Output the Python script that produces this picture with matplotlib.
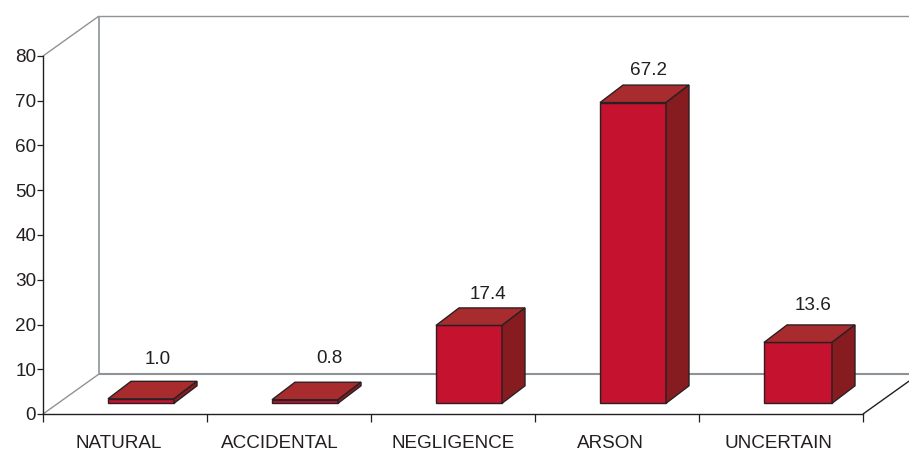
import matplotlib
matplotlib.use("Agg")
import matplotlib.pyplot as plt
from matplotlib.patches import Polygon

plt.rcParams["font.family"] = ["Liberation Sans", "DejaVu Sans"]

# Chart data
categories = ["NATURAL", "ACCIDENTAL", "NEGLIGENCE", "ARSON", "UNCERTAIN"]
values = [1.0, 0.8, 17.4, 67.2, 13.6]
value_labels = ["1.0", "0.8", "17.4", "67.2", "13.6"]
y_ticks = [0, 10, 20, 30, 40, 50, 60, 70, 80]

# Pixel nudges for the text around the bars
value_label_dx = [17, 24, 19, 16, 16]
value_label_dy = [39, 41, 31, 32, 37]
category_label_dx = [-6, -9, 0, -7, -3]
bar_extra_width_px = [0, 0, 0, 0, 2]

# Colours
TEXT = "#231f20"
WALL = "#8e9397"
EDGE = "#2a2024"
FRONT = "#c4122f"
TOP = "#a82c2e"
SIDE = "#871c20"
FONT_SIZE = 13.6

W, H = 909, 450
fig = plt.figure(figsize=(W / 100, H / 100), dpi=100, facecolor="white")
ax = fig.add_axes([43 / W, (H - 414) / H, 820 / W, 358 / H])
ax.set_xlim(0, len(categories))
ax.set_ylim(0, 80)
ax.patch.set_visible(False)

# Unit conversions for the oblique projection
px_x = len(categories) / 820
px_y = 80 / 358
wall_dx, wall_dy = 56 * px_x, 40 * px_y
bar_dx, bar_dy = 23 * px_x, 17.5 * px_y
bar_base = 10.7 * px_y
bar_shift = 16 * px_x
bar_width = 66 * px_x

for s in ("top", "right"):
    ax.spines[s].set_visible(False)
for s in ("left", "bottom"):
    ax.spines[s].set_color(TEXT)
    ax.spines[s].set_linewidth(1.0)

ax.set_yticks(y_ticks)
ax.set_xticks(range(len(categories) + 1))
ax.set_xticklabels([])
ax.tick_params(axis="y", length=4.5, width=0.9, color=TEXT, labelcolor=TEXT,
               labelsize=FONT_SIZE, pad=0.5)
ax.tick_params(axis="x", length=5.5, width=0.9, color=TEXT)

# Back wall and floor
n = len(categories)
line = dict(clip_on=False, solid_capstyle="butt", zorder=1)
ax.plot([0, wall_dx], [80, 80 + wall_dy], color=WALL, lw=1.0, **line)
ax.plot([0, wall_dx], [0, wall_dy], color=WALL, lw=1.0, **line)
ax.plot([wall_dx, wall_dx], [wall_dy, 80 + wall_dy], color=WALL, lw=1.2, **line)
ax.plot([wall_dx, n + wall_dx], [80 + wall_dy] * 2, color=WALL, lw=1.0, **line)
ax.plot([wall_dx, n + wall_dx], [wall_dy] * 2, color=WALL, lw=1.5, **line)
ax.plot([n, n + wall_dx], [0, wall_dy], color=TEXT, lw=1.0, **line)

# Extruded bars
for i, v in enumerate(values):
    x0 = i + 0.5 - bar_width / 2 + bar_shift
    x1 = x0 + bar_width + bar_extra_width_px[i] * px_x
    y0 = bar_base
    y1 = bar_base + v
    faces = [
        ([(x0, y0), (x1, y0), (x1, y1), (x0, y1)], FRONT),
        ([(x0, y1), (x1, y1), (x1 + bar_dx, y1 + bar_dy), (x0 + bar_dx, y1 + bar_dy)], TOP),
        ([(x1, y0), (x1 + bar_dx, y0 + bar_dy), (x1 + bar_dx, y1 + bar_dy), (x1, y1)], SIDE),
    ]
    for pts, color in faces:
        ax.add_patch(Polygon(pts, closed=True, facecolor=color, edgecolor=EDGE,
                             linewidth=1.0, joinstyle="miter", clip_on=False, zorder=3))
    ax.annotate(value_labels[i], xy=(i + 0.5 + bar_shift, y1),
                xytext=(value_label_dx[i], value_label_dy[i]),
                textcoords="offset pixels", ha="center", va="center",
                fontsize=FONT_SIZE, color=TEXT, annotation_clip=False, zorder=4)

# Category names below the axis
for i, name in enumerate(categories):
    ax.annotate(name, xy=(i + 0.5, 0), xytext=(category_label_dx[i], -29),
                textcoords="offset pixels", ha="center", va="center",
                fontsize=FONT_SIZE, color=TEXT, annotation_clip=False)

fig.savefig("out.png", dpi=100, facecolor="white")
